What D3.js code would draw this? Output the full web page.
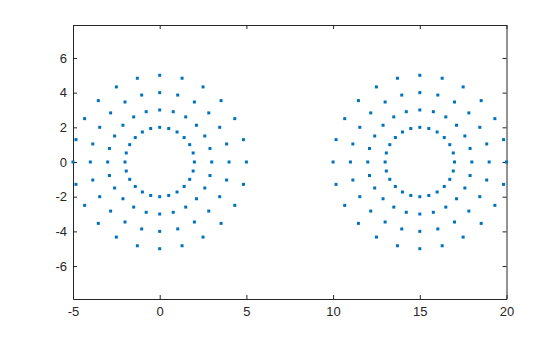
<!DOCTYPE html>
<html>
<head>
<meta charset="utf-8">
<script src="https://cdn.jsdelivr.net/npm/d3@7"></script>
<style>
body { margin: 0; background: #fff; }
.axis text { font-family: "Liberation Sans", Arial, sans-serif; font-size: 13px; fill: #262626; }
.axis path, .axis line { stroke: #262626; }
</style>
</head>
<body>
<div id="chart"></div>
<script>
// rings of radius 2, 3, 4, 5 around (0,0) and (15,0), 24 points each
var leftX = [
  2,1.93,1.73,1.41,1,0.52,0,-0.52,-1,-1.41,-1.73,-1.93,-2,-1.93,-1.73,-1.41,-1,-0.52,0,0.52,1,1.41,1.73,1.93,
  3,2.9,2.6,2.12,1.5,0.78,0,-0.78,-1.5,-2.12,-2.6,-2.9,-3,-2.9,-2.6,-2.12,-1.5,-0.78,0,0.78,1.5,2.12,2.6,2.9,
  4,3.86,3.46,2.83,2,1.04,0,-1.04,-2,-2.83,-3.46,-3.86,-4,-3.86,-3.46,-2.83,-2,-1.04,0,1.04,2,2.83,3.46,3.86,
  5,4.83,4.33,3.54,2.5,1.29,0,-1.29,-2.5,-3.54,-4.33,-4.83,-5,-4.83,-4.33,-3.54,-2.5,-1.29,0,1.29,2.5,3.54,4.33,4.83
];
var rightX = [
  17,16.93,16.73,16.41,16,15.52,15,14.48,14,13.59,13.27,13.07,13,13.07,13.27,13.59,14,14.48,15,15.52,16,16.41,16.73,16.93,
  18,17.9,17.6,17.12,16.5,15.78,15,14.22,13.5,12.88,12.4,12.1,12,12.1,12.4,12.88,13.5,14.22,15,15.78,16.5,17.12,17.6,17.9,
  19,18.86,18.46,17.83,17,16.04,15,13.96,13,12.17,11.54,11.14,11,11.14,11.54,12.17,13,13.96,15,16.04,17,17.83,18.46,18.86,
  20,19.83,19.33,18.54,17.5,16.29,15,13.71,12.5,11.46,10.67,10.17,10,10.17,10.67,11.46,12.5,13.71,15,16.29,17.5,18.54,19.33,19.83
];
var ringY = [
  0,0.52,1,1.41,1.73,1.93,2,1.93,1.73,1.41,1,0.52,0,-0.52,-1,-1.41,-1.73,-1.93,-2,-1.93,-1.73,-1.41,-1,-0.52,
  0,0.78,1.5,2.12,2.6,2.9,3,2.9,2.6,2.12,1.5,0.78,0,-0.78,-1.5,-2.12,-2.6,-2.9,-3,-2.9,-2.6,-2.12,-1.5,-0.78,
  0,1.04,2,2.83,3.46,3.86,4,3.86,3.46,2.83,2,1.04,0,-1.04,-2,-2.83,-3.46,-3.86,-4,-3.86,-3.46,-2.83,-2,-1.04,
  0,1.29,2.5,3.54,4.33,4.83,5,4.83,4.33,3.54,2.5,1.29,0,-1.29,-2.5,-3.54,-4.33,-4.83,-5,-4.83,-4.33,-3.54,-2.5,-1.29
];
var xTicks = [-5, 0, 5, 10, 15, 20];
var yTicks = [-6, -4, -2, 0, 2, 4, 6];

var points = [];
for (var i = 0; i < ringY.length; i++) {
  points.push({x: leftX[i], y: ringY[i]});
  points.push({x: rightX[i], y: ringY[i]});
}

var margin = {top: 25, right: 53.5, bottom: 38, left: 73},
    width = 560 - margin.left - margin.right,
    height = 337 - margin.top - margin.bottom;

var x = d3.scaleLinear().domain([-5, 20]).range([0, width]);
var y = d3.scaleLinear().domain([-7.9, 7.9]).range([height, 0]);

// plain hyphen for negatives, like the original
var fmt = function(d) { return String(d); };

var svg = d3.select("#chart").append("svg")
    .attr("width", 560)
    .attr("height", 337)
  .append("g")
    .attr("transform", "translate(" + margin.left + "," + margin.top + ")");

svg.append("g")
    .attr("class", "axis")
    .attr("transform", "translate(0," + height + ")")
    .call(d3.axisBottom(x).tickValues(xTicks).tickFormat(fmt).tickSize(-4).tickPadding(8).tickSizeOuter(0));

svg.append("g")
    .attr("class", "axis")
    .call(d3.axisTop(x).tickValues(xTicks).tickSize(-4).tickSizeOuter(0).tickFormat(""));

svg.append("g")
    .attr("class", "axis")
    .call(d3.axisLeft(y).tickValues(yTicks).tickFormat(fmt).tickSize(-4).tickPadding(6).tickSizeOuter(0));

svg.append("g")
    .attr("class", "axis")
    .attr("transform", "translate(" + width + ",0)")
    .call(d3.axisRight(y).tickValues(yTicks).tickSize(-4).tickSizeOuter(0).tickFormat(""));

svg.selectAll(".pt")
    .data(points)
  .enter().append("rect")
    .attr("class", "pt")
    .attr("x", function(d) { return x(d.x) - 1.5; })
    .attr("y", function(d) { return y(d.y) - 1.5; })
    .attr("width", 3)
    .attr("height", 3)
    .attr("fill", "#0072bd");
</script>
</body>
</html>
